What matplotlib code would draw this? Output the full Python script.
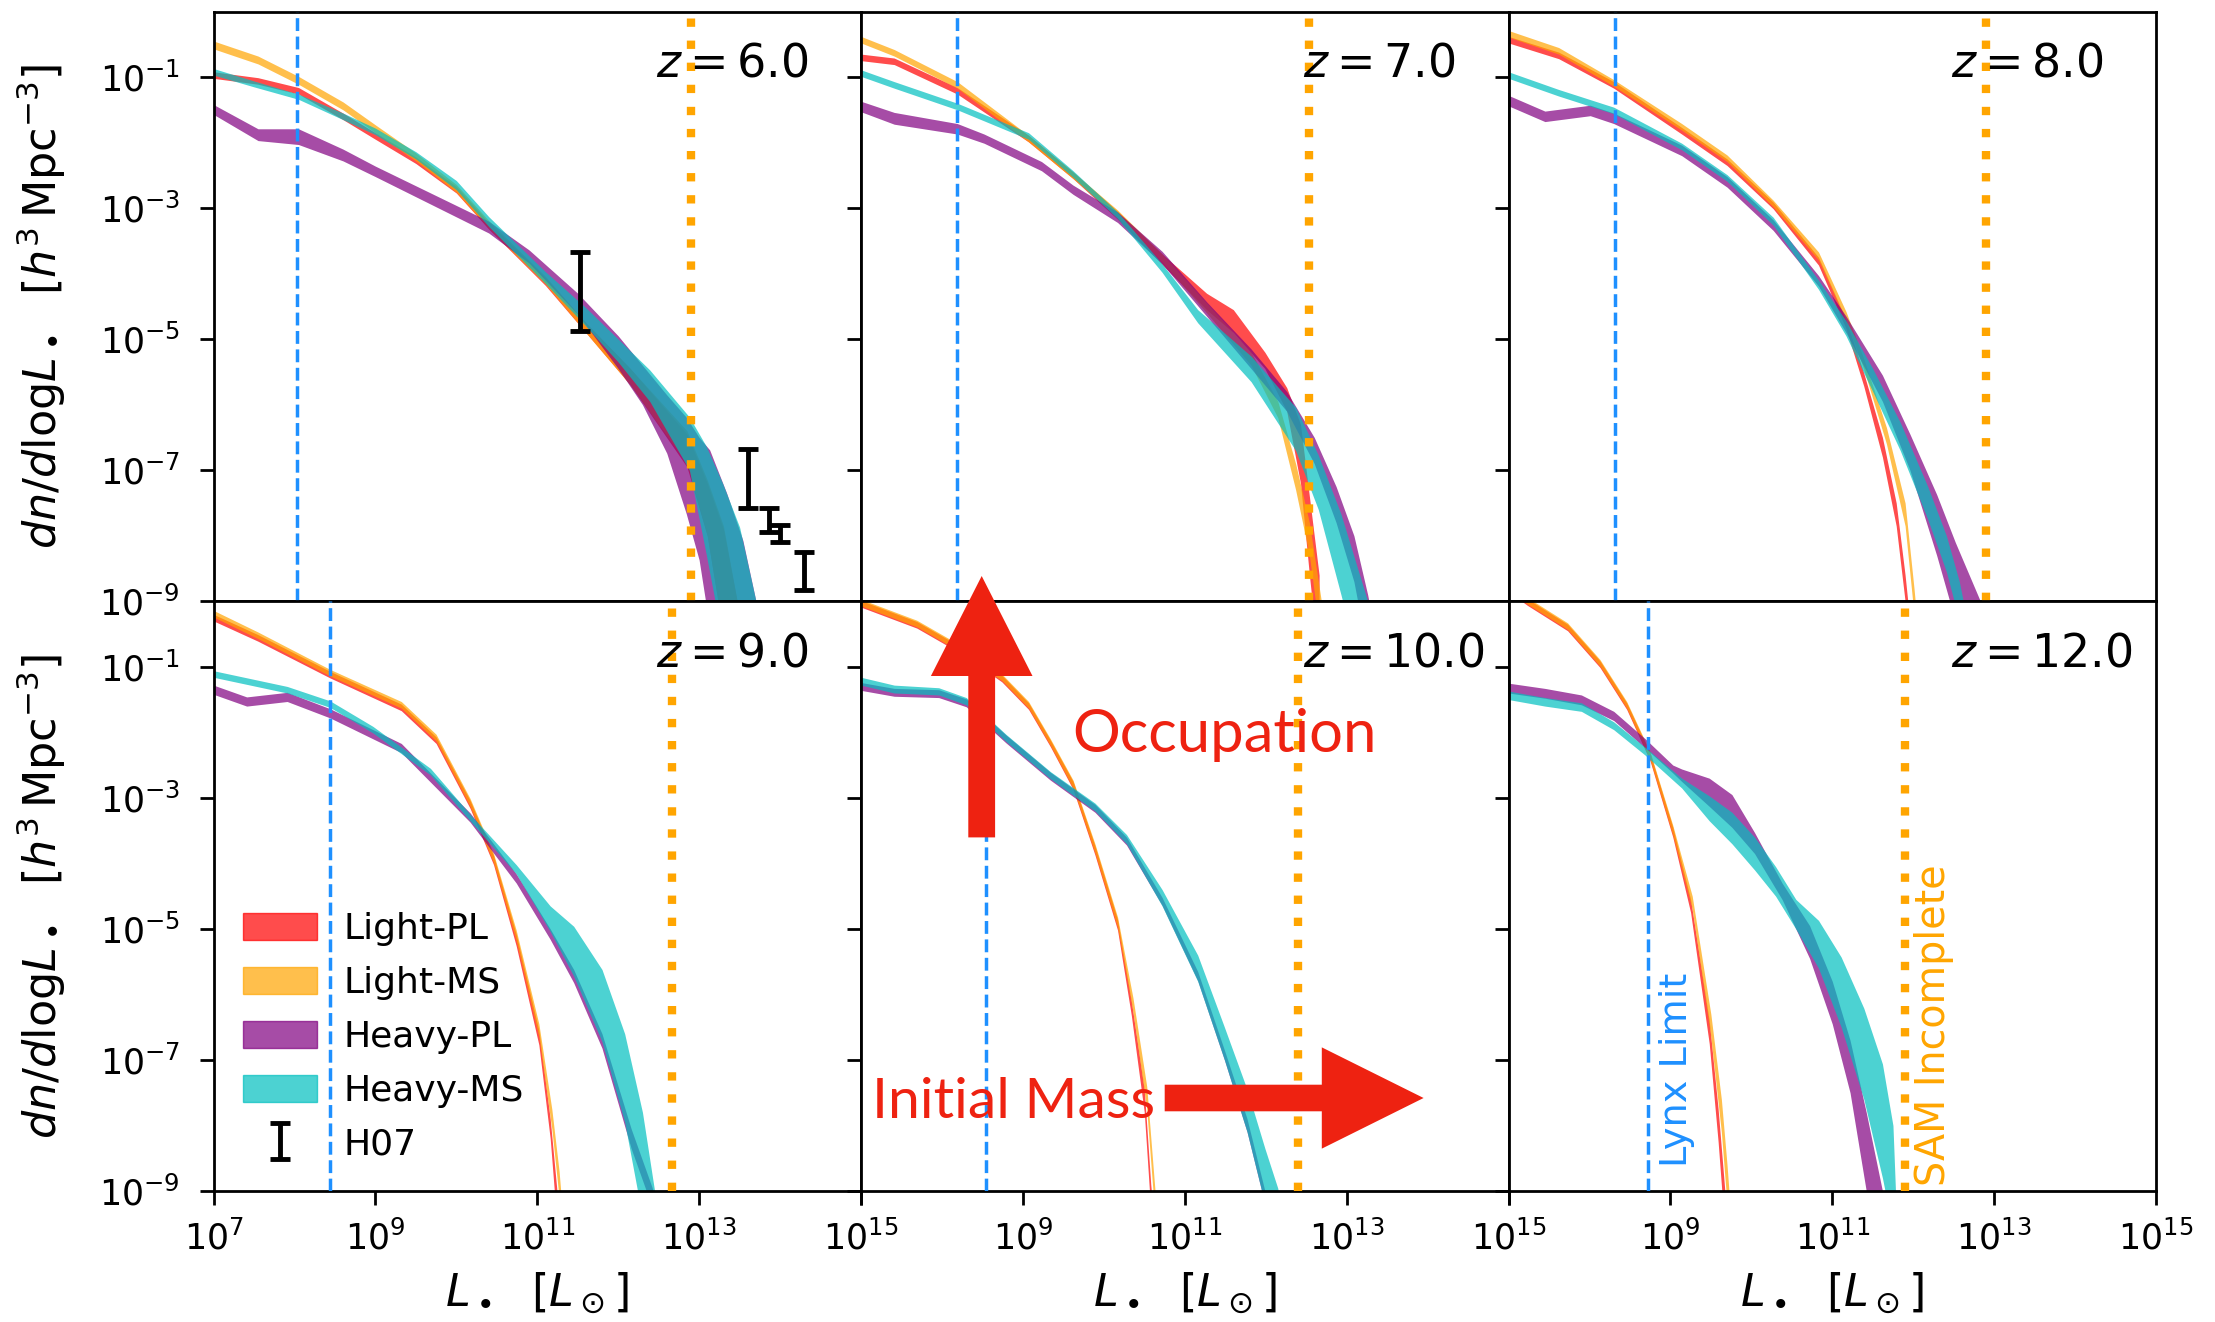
import numpy as np
import matplotlib
matplotlib.use('Agg')
import matplotlib.pyplot as plt
from matplotlib.patches import Patch, FancyArrow
from matplotlib.ticker import NullLocator

# ---------------- data (log10 values) ----------------
redshifts = [6.0, 7.0, 8.0, 9.0, 10.0, 12.0]
model_names = ['Light-PL', 'Light-MS', 'Heavy-PL', 'Heavy-MS']
model_colors = ['red', 'orange', 'purple', 'c']

lynx_logL = [8.03, 8.19, 8.31, 8.44, 8.54, 8.72]
sam_logL = [12.9, 12.54, 12.9, 12.67, 12.4, 11.9]

# Light-PL: per redshift panel, log L knots, upper and lower log(dn/dlogL)
LPL_L = [
    [7.0, 7.55, 8.05, 8.6, 9.0, 9.5, 10.0, 10.4, 11.1, 11.6, 12.15, 12.85, 13.1, 13.3, 13.5],
    [7.0, 7.41, 8.19, 9.07, 9.62, 10.17, 10.72, 11.27, 11.6, 11.99, 12.26, 12.43, 12.54, 12.66],
    [7.0, 7.62, 8.3, 9.14, 9.7, 10.27, 10.83, 11.17, 11.39, 11.62, 11.79, 11.9, 12.0],
    [7.0, 7.55, 8.44, 9.32, 9.75, 10.17, 10.46, 10.74, 11.02, 11.16, 11.24, 11.3],
    [7.0, 7.69, 8.24, 8.74, 9.07, 9.34, 9.62, 9.89, 10.17, 10.34, 10.5, 10.58, 10.65],
    [7.0, 7.23, 7.73, 8.13, 8.46, 8.75, 9.03, 9.25, 9.48, 9.59, 9.66, 9.72],
]
LPL_hi = [
    [-0.92, -1.01, -1.16, -1.55, -1.85, -2.22, -2.67, -3.22, -4.06, -4.75, -5.45, -6.45, -7.2, -7.9, -9.2],
    [-0.65, -0.71, -1.16, -1.89, -2.45, -3.05, -3.7, -4.3, -4.55, -5.2, -5.74, -6.3, -7.4, -8.6],
    [-0.38, -0.62, -1.07, -1.77, -2.25, -2.91, -3.75, -4.7, -5.52, -6.5, -7.5, -8.6, -9.8],
    [-0.2, -0.51, -1.07, -1.57, -2.07, -3.04, -3.88, -5.08, -6.55, -7.9, -8.95, -9.8],
    [0.01, -0.31, -0.7, -1.13, -1.55, -2.12, -2.75, -3.73, -4.86, -6.1, -7.45, -8.9, -9.8],
    [0.25, 0.04, -0.35, -0.91, -1.55, -2.32, -3.45, -4.55, -6.4, -7.75, -8.8, -9.7],
]
LPL_lo = [
    [-1.02, -1.11, -1.26, -1.65, -1.95, -2.32, -2.77, -3.32, -4.18, -4.9, -5.7, -6.95, -8.0, -9.5, -11.0],
    [-0.75, -0.81, -1.26, -1.99, -2.55, -3.17, -3.86, -4.55, -4.9, -5.45, -6.1, -7.2, -8.6, -10.0],
    [-0.48, -0.72, -1.17, -1.87, -2.35, -3.01, -3.87, -4.84, -5.72, -6.8, -7.85, -9.0, -10.2],
    [-0.3, -0.61, -1.17, -1.67, -2.17, -3.16, -4.02, -5.26, -6.77, -8.2, -9.45, -10.2],
    [-0.09, -0.41, -0.8, -1.23, -1.65, -2.22, -2.87, -3.87, -5.02, -6.32, -7.8, -9.3, -10.2],
    [0.15, -0.06, -0.45, -1.01, -1.65, -2.44, -3.6, -4.75, -6.75, -8.25, -9.4, -10.3],
]

# Light-MS
LMS_L = [
    [7.0, 7.55, 8.05, 8.6, 9.0, 9.5, 10.0, 10.4, 11.1, 11.6, 12.15, 12.85, 13.1, 13.3, 13.5],
    [7.0, 7.41, 8.19, 9.07, 9.62, 10.17, 10.72, 11.27, 11.82, 12.15, 12.37, 12.54, 12.7],
    [7.0, 7.62, 8.3, 9.14, 9.7, 10.27, 10.83, 11.17, 11.39, 11.67, 11.9, 12.01, 12.1],
    [7.0, 7.55, 8.44, 9.32, 9.75, 10.17, 10.46, 10.74, 11.02, 11.18, 11.27, 11.33],
    [7.0, 7.69, 8.24, 8.74, 9.07, 9.34, 9.62, 9.89, 10.17, 10.36, 10.53, 10.62, 10.68],
    [7.0, 7.23, 7.73, 8.13, 8.46, 8.75, 9.03, 9.27, 9.5, 9.63, 9.7, 9.76],
]
LMS_hi = [
    [-0.45, -0.68, -0.99, -1.38, -1.73, -2.16, -2.64, -3.19, -4.04, -4.75, -5.45, -6.4, -7.15, -7.85, -9.2],
    [-0.38, -0.58, -1.07, -1.89, -2.45, -3.03, -3.7, -4.45, -5.2, -5.95, -6.9, -7.8, -9.1],
    [-0.29, -0.55, -1.04, -1.71, -2.19, -2.88, -3.67, -4.58, -5.3, -6.35, -7.5, -8.8, -10.0],
    [-0.14, -0.47, -1.04, -1.53, -2.03, -3.01, -3.85, -5.02, -6.45, -7.75, -8.7, -9.6],
    [0.03, -0.29, -0.68, -1.11, -1.53, -2.1, -2.73, -3.7, -4.82, -6.05, -7.4, -8.8, -9.7],
    [0.27, 0.06, -0.33, -0.89, -1.53, -2.3, -3.42, -4.5, -6.3, -7.6, -8.6, -9.6],
]
LMS_lo = [
    [-0.57, -0.8, -1.11, -1.5, -1.85, -2.28, -2.76, -3.31, -4.16, -4.9, -5.7, -6.9, -8.0, -9.5, -11.0],
    [-0.48, -0.68, -1.17, -1.99, -2.55, -3.13, -3.82, -4.6, -5.4, -6.2, -7.3, -8.3, -9.8],
    [-0.39, -0.65, -1.14, -1.81, -2.29, -2.98, -3.79, -4.72, -5.46, -6.6, -7.85, -9.2, -10.4],
    [-0.24, -0.57, -1.14, -1.63, -2.13, -3.13, -3.99, -5.18, -6.65, -8.05, -9.1, -10.0],
    [-0.07, -0.39, -0.78, -1.21, -1.63, -2.2, -2.85, -3.84, -4.98, -6.27, -7.75, -9.2, -10.1],
    [0.17, -0.04, -0.43, -0.99, -1.63, -2.42, -3.57, -4.7, -6.65, -8.1, -9.2, -10.2],
]

# Heavy-PL
HPL_L = [
    [7.0, 7.55, 8.05, 8.6, 9.0, 9.7, 10.4, 10.9, 11.5, 12.0, 12.3, 12.6, 12.84, 13.0, 13.13, 13.34, 13.54, 13.72],
    [7.0, 7.41, 8.19, 8.52, 9.23, 9.62, 10.17, 10.72, 11.27, 11.82, 12.26, 12.6, 12.87, 13.09, 13.26, 13.4],
    [7.0, 7.45, 8.01, 8.3, 9.14, 9.7, 10.27, 10.83, 11.17, 11.62, 11.96, 12.29, 12.52, 12.83, 13.0],
    [7.0, 7.41, 7.91, 8.44, 9.32, 10.17, 10.74, 11.16, 11.45, 11.8, 12.16, 12.42, 12.6],
    [7.0, 7.41, 7.96, 8.3, 8.79, 9.34, 9.89, 10.28, 10.72, 11.16, 11.49, 11.77, 11.99, 12.1],
    [7.0, 7.45, 7.9, 8.3, 8.69, 9.03, 9.14, 9.48, 9.76, 10.04, 10.38, 10.72, 11.0, 11.22, 11.42, 11.62, 11.7],
]
HPL_hi = [
    [-1.42, -1.79, -1.79, -2.1, -2.36, -2.78, -3.2, -3.64, -4.3, -4.95, -5.4, -5.85, -6.19, -6.5, -6.69, -7.35, -8.07, -9.1],
    [-1.37, -1.54, -1.71, -1.87, -2.29, -2.65, -3.06, -3.66, -4.43, -5.15, -5.8, -6.5, -7.25, -8.0, -8.9, -9.8],
    [-1.28, -1.52, -1.43, -1.55, -2.04, -2.52, -3.18, -4.03, -4.65, -5.55, -6.45, -7.37, -8.1, -9.0, -9.8],
    [-1.28, -1.46, -1.39, -1.64, -2.17, -3.23, -4.16, -5.0, -5.62, -6.6, -8.05, -8.95, -9.8],
    [-1.24, -1.33, -1.35, -1.49, -2.04, -2.61, -3.1, -3.6, -4.52, -5.65, -6.85, -7.9, -9.0, -9.8],
    [-1.25, -1.33, -1.43, -1.68, -2.1, -2.5, -2.56, -2.7, -2.95, -3.53, -4.3, -4.95, -5.8, -6.7, -7.8, -9.0, -9.6],
]
HPL_lo = [
    [-1.57, -1.97, -2.03, -2.28, -2.52, -2.95, -3.38, -3.84, -4.62, -5.45, -6.0, -6.74, -7.66, -8.37, -9.4, -11.0, -12.0, -12.0],
    [-1.53, -1.72, -1.87, -2.01, -2.43, -2.79, -3.22, -3.85, -4.65, -5.45, -6.1, -6.9, -7.8, -8.7, -9.8, -11.0],
    [-1.44, -1.68, -1.59, -1.71, -2.2, -2.68, -3.34, -4.19, -4.9, -5.95, -7.0, -8.3, -9.3, -10.5, -11.0],
    [-1.42, -1.6, -1.53, -1.78, -2.31, -3.37, -4.3, -5.16, -5.82, -6.82, -8.35, -9.25, -10.2],
    [-1.36, -1.45, -1.47, -1.61, -2.16, -2.73, -3.22, -3.72, -4.64, -5.79, -7.0, -8.1, -9.2, -10.2],
    [-1.4, -1.48, -1.58, -1.82, -2.24, -2.62, -2.75, -3.13, -3.45, -3.85, -4.55, -5.45, -6.45, -7.5, -9.0, -10.5, -11.0],
]

# Heavy-MS
HMS_L = [
    [7.0, 7.5, 8.05, 8.6, 9.0, 9.5, 10.0, 10.4, 11.1, 11.6, 12.0, 12.39, 12.88, 13.09, 13.29, 13.5, 13.72],
    [7.0, 7.41, 8.19, 9.07, 9.62, 10.17, 10.72, 11.16, 11.82, 12.37, 12.65, 12.93, 13.26, 13.4],
    [7.0, 7.62, 8.3, 9.14, 9.7, 10.27, 10.83, 11.17, 11.5, 11.84, 12.18, 12.41, 12.57, 12.7],
    [7.0, 7.91, 8.44, 8.97, 9.68, 10.17, 10.74, 11.16, 11.45, 11.8, 12.08, 12.3, 12.45, 12.6],
    [7.0, 7.41, 7.96, 8.3, 8.79, 9.34, 9.89, 10.28, 10.72, 11.16, 11.49, 11.77, 11.99, 12.15, 12.25],
    [7.0, 7.45, 7.9, 8.3, 8.69, 9.14, 9.48, 9.76, 10.04, 10.3, 10.55, 10.83, 11.11, 11.39, 11.62, 11.75, 11.8],
]
HMS_hi = [
    [-0.87, -1.06, -1.26, -1.55, -1.78, -2.14, -2.58, -3.13, -3.97, -4.52, -5.0, -5.47, -6.19, -6.64, -7.2, -7.87, -9.1],
    [-0.89, -1.07, -1.4, -1.85, -2.43, -3.06, -3.85, -4.55, -5.26, -6.04, -6.77, -7.67, -9.0, -9.8],
    [-0.92, -1.19, -1.46, -2.01, -2.49, -3.14, -4.1, -4.72, -5.45, -6.27, -7.25, -8.0, -8.7, -9.5],
    [-1.06, -1.3, -1.52, -1.91, -2.55, -3.25, -4.02, -4.65, -4.96, -5.62, -6.6, -7.8, -9.0, -10.0],
    [-1.16, -1.28, -1.32, -1.47, -2.03, -2.6, -3.08, -3.56, -4.4, -5.4, -6.5, -7.45, -8.35, -8.96, -9.8],
    [-1.37, -1.47, -1.55, -1.84, -2.23, -2.7, -2.97, -3.22, -3.6, -4.05, -4.55, -4.87, -5.43, -6.21, -7.06, -8.0, -9.6],
]
HMS_lo = [
    [-0.97, -1.15, -1.34, -1.65, -1.88, -2.25, -2.72, -3.28, -4.15, -4.8, -5.35, -5.95, -7.0, -8.3, -9.6, -11.0, -12.0],
    [-0.99, -1.17, -1.5, -1.95, -2.53, -3.16, -3.98, -4.75, -5.65, -6.7, -7.6, -8.9, -10.5, -12.0],
    [-1.02, -1.29, -1.56, -2.11, -2.59, -3.26, -4.24, -4.95, -5.8, -6.7, -7.75, -8.55, -9.3, -10.1],
    [-1.16, -1.4, -1.62, -2.01, -2.65, -3.35, -4.16, -5.04, -5.72, -6.72, -7.95, -9.4, -10.5, -11.0],
    [-1.28, -1.4, -1.43, -1.58, -2.14, -2.71, -3.2, -3.7, -4.65, -5.8, -7.0, -8.1, -9.2, -10.0, -11.0],
    [-1.5, -1.6, -1.68, -1.96, -2.35, -2.85, -3.35, -3.7, -4.1, -4.5, -5.0, -5.6, -6.5, -7.6, -8.8, -9.6, -11.0],
]

# H07 observational constraints at z = 6 (log L, lower / upper log density)
h07_logL = [11.53, 13.61, 13.86, 14.0, 14.30]
h07_lo = [-4.88, -7.57, -7.94, -8.10, -8.83]
h07_hi = [-3.67, -6.67, -7.58, -7.84, -8.25]

xtick_exp = [7, 9, 11, 13, 15]
ytick_exp = [-9, -7, -5, -3, -1]

# ---------------- figure ----------------
W, H, DPI = 2215, 1322, 100
fig, axes = plt.subplots(2, 3, figsize=(W / DPI, H / DPI), dpi=DPI)
fig.subplots_adjust(left=213.5 / W, right=2156 / W, top=1 - 11.5 / H, bottom=1 - 1191 / H,
                    wspace=0, hspace=0)

all_L = [LPL_L, LMS_L, HPL_L, HMS_L]
all_hi = [LPL_hi, LMS_hi, HPL_hi, HMS_hi]
all_lo = [LPL_lo, LMS_lo, HPL_lo, HMS_lo]

for i, ax in enumerate(axes.flat):
    row, col = divmod(i, 3)
    ax.set_xscale('log')
    ax.set_yscale('log')
    for m in range(4):
        L = 10.0 ** np.array(all_L[m][i])
        hi = 10.0 ** np.array(all_hi[m][i])
        lo = 10.0 ** np.array(all_lo[m][i])
        ax.fill_between(L, lo, hi, color=model_colors[m], alpha=0.7, lw=0, zorder=2)
    ax.axvline(10 ** lynx_logL[i], color='dodgerblue', ls='--', lw=2.5, zorder=3)
    ax.axvline(10 ** sam_logL[i], color='orange', ls=':', lw=6, zorder=3)
    ax.set_xlim(1e7, 1e15)
    ax.set_ylim(1e-9, 1e0)
    ax.text(0.683, 0.889, r'$z = %.1f$' % redshifts[i], transform=ax.transAxes,
            fontsize=33, ha='left', va='baseline', zorder=5)

    xt = [10.0 ** e for e in xtick_exp]
    xl = [r'$\mathdefault{10^{%d}}$' % e for e in xtick_exp]
    if col > 0:
        xl[0] = ''
    ax.set_xticks(xt, xl)
    ax.set_yticks([10.0 ** e for e in ytick_exp],
                  [r'$\mathdefault{10^{%d}}$' % e for e in ytick_exp])
    ax.xaxis.set_minor_locator(NullLocator())
    ax.yaxis.set_minor_locator(NullLocator())
    ax.tick_params(labelsize=25, width=2, length=10, direction='out')
    ax.tick_params(axis='y', pad=14)
    ax.tick_params(axis='x', pad=11)
    if row == 0:
        ax.tick_params(axis='x', bottom=False, labelbottom=False)
    if col > 0:
        ax.tick_params(axis='y', labelleft=False)
    else:
        ax.set_ylabel(r'$dn/d\mathrm{log}L_\bullet\ \ [h^3\,\mathrm{Mpc}^{-3}]$', fontsize=32)
        ax.yaxis.set_label_coords(-0.225, 0.5)
    if row == 1:
        ax.set_xlabel(r'$L_\bullet\ \ [L_\odot]$', fontsize=32)
        ax.xaxis.set_label_coords(0.5, -0.135)
    for s in ax.spines.values():
        s.set_linewidth(2)

# H07 error bars in the z=6 panel
ax0 = axes[0, 0]
h07_mid = [0.5 * (a + b) for a, b in zip(h07_lo, h07_hi)]
yv = 10.0 ** np.array(h07_mid)
ylo = 10.0 ** np.array(h07_lo)
yhi = 10.0 ** np.array(h07_hi)
eb = ax0.errorbar(10.0 ** np.array(h07_logL), yv, yerr=[yv - ylo, yhi - yv], fmt='none',
                  ecolor='black', elinewidth=3.5, capsize=7, capthick=3.5, zorder=4)

# legend in the z=9 panel
handles = [Patch(facecolor=c, edgecolor=c, alpha=0.7) for c in model_colors] + [eb]
axes[1, 0].legend(handles, model_names + ['H07'], loc='lower left',
                  bbox_to_anchor=(0.045, 0.05), frameon=False, fontsize=26,
                  handlelength=2.05, handleheight=0.78, handletextpad=0.75,
                  labelspacing=0.55, borderpad=0, borderaxespad=0)

# vertical labels in the z=12 panel
ax5 = axes[1, 2]
ax5.text(10 ** 8.86, 10 ** -8.63, 'Lynx Limit', rotation=90, color='dodgerblue',
         fontsize=27.5, ha='left', va='bottom', zorder=5)
ax5.text(10 ** 12.01, 10 ** -8.92, 'SAM Incomplete', rotation=90, color='orange',
         fontsize=28.5, ha='left', va='bottom', zorder=5)

# annotation arrows & texts
arrow_color = '#EE2211'
fig.add_artist(FancyArrow(981.7 / DPI, (H - 837.4) / DPI, 0, (837.4 - 576) / DPI,
                          width=0.268, head_width=1.016, head_length=1.0,
                          length_includes_head=True, color=arrow_color, lw=0,
                          transform=fig.dpi_scale_trans, zorder=10))
fig.add_artist(FancyArrow(1164.7 / DPI, (H - 1098) / DPI, (1423.6 - 1164.7) / DPI, 0,
                          width=0.266, head_width=1.013, head_length=1.018,
                          length_includes_head=True, color=arrow_color, lw=0,
                          transform=fig.dpi_scale_trans, zorder=10))
fig.text(1071.9 / W, (H - 752) / H, 'Occupation', color=arrow_color, fontsize=43,
         family='Lato', ha='left', va='baseline', zorder=10)
fig.text(872 / W, (H - 1117.5) / H, 'Initial Mass', color=arrow_color, fontsize=41,
         family='Lato', ha='left', va='baseline', zorder=10)

fig.savefig('out.png', dpi=DPI)
